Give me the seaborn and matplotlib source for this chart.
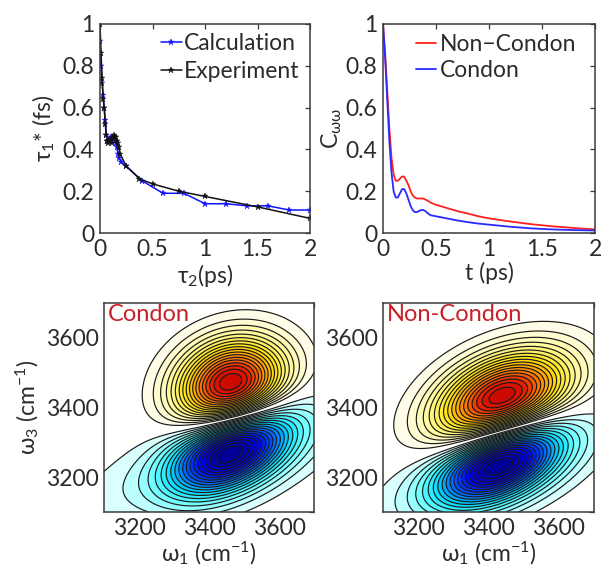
import numpy as np
import matplotlib
matplotlib.use("Agg")
import matplotlib.pyplot as plt
import seaborn as sns
from matplotlib.colors import LinearSegmentedColormap
from matplotlib.ticker import MultipleLocator, FuncFormatter

# ---------------- tau1* versus waiting time tau2 ----------------
calc_t2 = [0.0, 0.01, 0.02, 0.03, 0.04, 0.05, 0.06, 0.07, 0.08, 0.09, 0.10, 0.11,
           0.12, 0.13, 0.14, 0.15, 0.16, 0.17, 0.18, 0.20, 0.25, 0.40, 0.60, 0.80,
           1.00, 1.20, 1.40, 1.60, 1.80, 2.00]
calc_tau1 = [0.92, 0.80, 0.72, 0.66, 0.60, 0.54, 0.47, 0.44, 0.44, 0.45, 0.46, 0.46,
             0.45, 0.45, 0.44, 0.43, 0.41, 0.38, 0.36, 0.34, 0.32, 0.25, 0.19, 0.19,
             0.14, 0.14, 0.13, 0.13, 0.11, 0.11]
exp_t2 = [0.0, 0.01, 0.02, 0.03, 0.04, 0.05, 0.06, 0.07, 0.08, 0.09, 0.10, 0.11,
          0.12, 0.13, 0.14, 0.15, 0.16, 0.17, 0.18, 0.19, 0.25, 0.375, 0.50, 0.75,
          1.00, 1.50, 2.00]
exp_tau1 = [1.00, 0.86, 0.74, 0.64, 0.60, 0.52, 0.47, 0.44, 0.43, 0.44, 0.45, 0.43,
            0.46, 0.47, 0.46, 0.46, 0.44, 0.43, 0.41, 0.38, 0.32, 0.26, 0.235, 0.20,
            0.175, 0.125, 0.07]

# ---------------- frequency-frequency correlation function ----------------
corr_t = [0.0, 0.02, 0.04, 0.06, 0.08, 0.10, 0.12, 0.14, 0.16, 0.18, 0.20, 0.22,
          0.24, 0.26, 0.28, 0.30, 0.32, 0.34, 0.36, 0.38, 0.40, 0.42, 0.45, 0.50,
          0.60, 0.70, 0.80, 0.90, 1.00, 1.20, 1.40, 1.60, 1.80, 2.00]
corr_noncondon = [1.0, 0.86, 0.68, 0.50, 0.36, 0.28, 0.25, 0.25, 0.26, 0.27, 0.27, 0.25,
                  0.23, 0.20, 0.18, 0.17, 0.165, 0.165, 0.165, 0.165, 0.16, 0.155, 0.145,
                  0.135, 0.12, 0.105, 0.093, 0.08, 0.07, 0.055, 0.042, 0.032, 0.024, 0.017]
corr_condon = [1.0, 0.84, 0.64, 0.44, 0.29, 0.20, 0.17, 0.17, 0.19, 0.21, 0.21, 0.19,
               0.16, 0.13, 0.11, 0.10, 0.10, 0.105, 0.11, 0.11, 0.105, 0.095, 0.085,
               0.08, 0.07, 0.06, 0.052, 0.045, 0.04, 0.03, 0.022, 0.017, 0.014, 0.012]

# ---------------- 2D IR lineshape parameters (cm^-1, degrees) ----------------
spec_names = ["Condon", "Non-Condon"]
# bleach / stimulated emission lobe
gsb_w1 = [3465, 3440]
gsb_w3 = [3462, 3424]
gsb_major = [108, 135]
gsb_minor = [86, 80]
gsb_angle = [22, 24]
# excited-state absorption core
esa_w1 = [3466, 3433]
esa_w3 = [3282, 3245]
esa_major = [125, 130]
esa_minor = [70, 68]
esa_angle = [28, 26]
# broad, weak excited-state absorption wing
wing_w1 = [3420, 3400]
wing_w3 = [3245, 3210]
wing_major = [320, 250]
wing_minor = [80, 75]
wing_angle = [18, 20]
wing_amp = [0.11, 0.11]

FS = 16.5
TXT = "#2b2b2b"
SPINE = "#3a3a3a"

sns.set_theme(style="white")
plt.rcParams["font.family"] = ["Lato", "DejaVu Sans"]
plt.rcParams["mathtext.fontset"] = "custom"
plt.rcParams["mathtext.rm"] = "Lato"
plt.rcParams["mathtext.it"] = "Lato:italic"
plt.rcParams["mathtext.bf"] = "Lato:bold"
plt.rcParams["mathtext.fallback"] = "stix"
plt.rcParams["text.color"] = TXT
plt.rcParams["axes.labelcolor"] = TXT
plt.rcParams["xtick.color"] = TXT
plt.rcParams["ytick.color"] = TXT
plt.rcParams["contour.negative_linestyle"] = "solid"

W, H = 604, 569
fig = plt.figure(figsize=(W / 100, H / 100), dpi=100)


def box(l, t, r, b):
    return [l / W, 1 - b / H, (r - l) / W, (b - t) / H]


ax1 = fig.add_axes(box(100, 24, 310, 233))
ax2 = fig.add_axes(box(383, 24, 595, 233))
ax3 = fig.add_axes(box(104, 303, 314, 512))
ax4 = fig.add_axes(box(383, 303, 594, 512))


def style(ax):
    for s in ax.spines.values():
        s.set_color(SPINE)
        s.set_linewidth(1.1)
        s.set_visible(True)
    ax.tick_params(direction="in", length=3.5, width=0.9, top=True, right=True,
                   labelsize=FS, pad=4, color=SPINE)


fmt = FuncFormatter(lambda v, p: f"{v:g}")

# ---- top left ----
sns.lineplot(x=calc_t2, y=calc_tau1, ax=ax1, color="#1010ff", lw=1.1, marker="*",
             markersize=5, markeredgewidth=0.3, markeredgecolor="#1010ff",
             label="Calculation", sort=False)
sns.lineplot(x=exp_t2, y=exp_tau1, ax=ax1, color="#111111", lw=1.1, marker="*",
             markersize=5, markeredgewidth=0.3, markeredgecolor="#111111",
             label="Experiment", sort=False)
ax1.set_xlim(0, 2)
ax1.set_ylim(0, 1)
ax1.xaxis.set_major_locator(MultipleLocator(0.5))
ax1.yaxis.set_major_locator(MultipleLocator(0.2))
ax1.xaxis.set_major_formatter(fmt)
ax1.yaxis.set_major_formatter(fmt)
ax1.set_xlabel(r"$\mathrm{\tau_2}$(ps)", fontsize=FS, labelpad=2)
ax1.set_ylabel(r"$\mathrm{\tau_1}$* (fs)", fontsize=FS, labelpad=4)
style(ax1)
ax1.legend(loc="upper left", bbox_to_anchor=(0.29, 0.955), frameon=False,
           fontsize=FS, handlelength=0.9, handletextpad=0.1, borderpad=0,
           borderaxespad=0, labelspacing=0.3)

# ---- top right ----
sns.lineplot(x=corr_t, y=corr_noncondon, ax=ax2, color="#ff2020", lw=1.3,
             label="Non\u2212Condon", sort=False)
sns.lineplot(x=corr_t, y=corr_condon, ax=ax2, color="#2a2aff", lw=1.3,
             label="Condon", sort=False)
ax2.set_xlim(0, 2)
ax2.set_ylim(0, 1)
ax2.xaxis.set_major_locator(MultipleLocator(0.5))
ax2.yaxis.set_major_locator(MultipleLocator(0.2))
ax2.xaxis.set_major_formatter(fmt)
ax2.yaxis.set_major_formatter(fmt)
ax2.set_xlabel("t (ps)", fontsize=FS, labelpad=2)
ax2.set_ylabel(r"C$_{\mathrm{\omega\omega}}$", fontsize=FS, labelpad=1)
style(ax2)
ax2.legend(loc="upper left", bbox_to_anchor=(0.155, 0.95), frameon=False,
           fontsize=FS, handlelength=0.9, handletextpad=0.15, borderpad=0,
           borderaxespad=0, labelspacing=0.2)

# ---- 2D IR spectra ----
cmap = LinearSegmentedColormap.from_list("ir2d", [
    (0.00, (0.00, 0.00, 0.55)),
    (0.10, (0.00, 0.00, 0.92)),
    (0.20, (0.00, 0.35, 1.00)),
    (0.30, (0.00, 0.85, 1.00)),
    (0.38, (0.40, 1.00, 1.00)),
    (0.45, (0.80, 1.00, 1.00)),
    (0.50, (1.00, 1.00, 1.00)),
    (0.55, (1.00, 0.99, 0.88)),
    (0.63, (1.00, 0.97, 0.55)),
    (0.72, (1.00, 0.90, 0.05)),
    (0.82, (1.00, 0.55, 0.00)),
    (0.92, (0.90, 0.10, 0.00)),
    (1.00, (0.72, 0.00, 0.00)),
])

w = np.linspace(3100, 3700, 361)
W1, W3 = np.meshgrid(w, w)
steps = np.linspace(0.05, 1.0, 20)
levels = np.concatenate([-steps[::-1], steps])


def lobe(w1c, w3c, major, minor, angle):
    th = np.deg2rad(angle)
    u = W1 - w1c
    v = W3 - w3c
    p = u * np.cos(th) + v * np.sin(th)
    q = -u * np.sin(th) + v * np.cos(th)
    return np.exp(-0.5 * (p / major) ** 2 - 0.5 * (q / minor) ** 2)


for i, ax in enumerate([ax3, ax4]):
    S = (lobe(gsb_w1[i], gsb_w3[i], gsb_major[i], gsb_minor[i], gsb_angle[i])
         - lobe(esa_w1[i], esa_w3[i], esa_major[i], esa_minor[i], esa_angle[i])
         - wing_amp[i] * lobe(wing_w1[i], wing_w3[i], wing_major[i], wing_minor[i],
                              wing_angle[i]))
    S = S / np.abs(S).max()
    ax.contourf(W1, W3, S, levels=np.concatenate([[-1.01], levels[1:-1], [1.01]]),
                cmap=cmap, vmin=-1, vmax=1)
    ax.contour(W1, W3, S, levels=levels, colors="#1a1a1a", linewidths=0.85)
    ax.set_xlim(3100, 3700)
    ax.set_ylim(3100, 3700)
    ax.xaxis.set_major_locator(MultipleLocator(100))
    ax.yaxis.set_major_locator(MultipleLocator(100))
    lab = FuncFormatter(lambda v, p: f"{v:.0f}" if round(v) % 200 == 0 and 3150 < v < 3650 else "")
    ax.xaxis.set_major_formatter(lab)
    ax.yaxis.set_major_formatter(lab)
    ax.set_xlabel(r"$\mathrm{\omega_1}$ (cm$^{-1}$)", fontsize=FS, labelpad=1)
    style(ax)
    ax.text(0.02, 0.995, spec_names[i], transform=ax.transAxes, ha="left", va="top",
            color="#c8202a", fontsize=FS + 0.5)

ax3.set_ylabel(r"$\mathrm{\omega_3}$ (cm$^{-1}$)", fontsize=FS, labelpad=3)

fig.savefig("out.png", dpi=100)
